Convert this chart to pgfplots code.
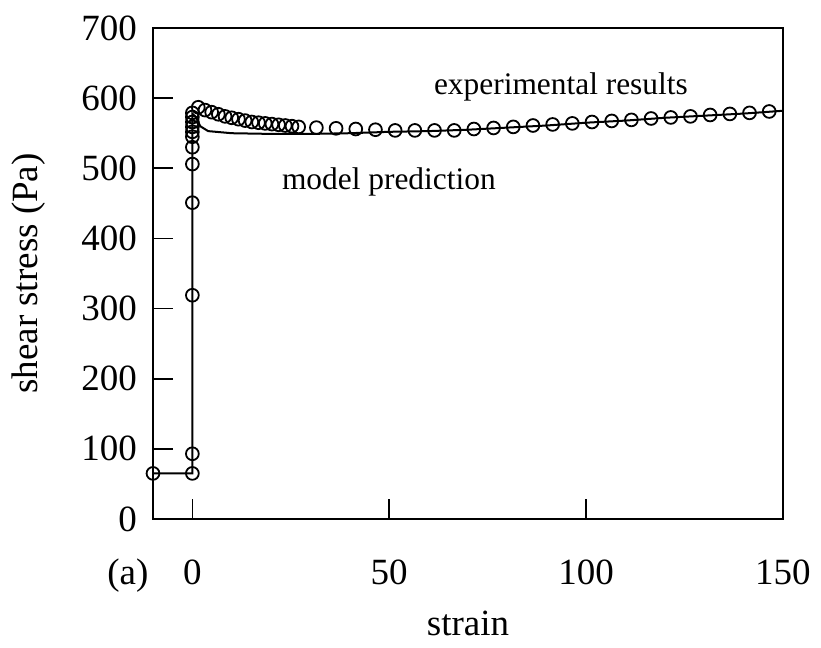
\documentclass[border=0pt]{standalone}
\usepackage{fontspec}
\setmainfont{Liberation Serif}
\usepackage{pgfplots}
\pgfplotsset{compat=1.18}

% experimental shear stress vs. strain
\pgfplotstableread{
x y
-10 65
0 65
0 93
0 319
0 451
0 506
0 530
0 545
0 552
0 559
0 566
0 573
0 579
1.5 587
3.2 583
4.9 580
6.6 577
8.3 574
10.0 572
11.7 570
13.4 568
15.1 566
16.8 565
18.5 564
20.2 563
21.9 562
23.6 561
25.3 560
27.0 559
31.5 558
36.5 557
41.5 556
46.5 555
51.5 554
56.5 554
61.5 554
66.5 554
71.5 556
76.5 557.5
81.5 559
86.5 561
91.5 562.5
96.5 564
101.5 566
106.5 567.5
111.5 569
116.5 571
121.5 572.5
126.5 574
131.5 576
136.5 577.5
141.5 579
146.5 581
}\expdata

% model prediction
\pgfplotstableread{
x y
-10 65
0 65
0 578
1 572
2 560
4 553
10 550
20 549
30 549
40 550
50 552
60 553
70 555
80 558
90 561
100 565
110 568
120 572
130 575
140 578
150 582
}\modeldata

\begin{document}
\begin{tikzpicture}
\useasboundingbox (-76.5pt,-64.5pt) rectangle (334pt,259.5pt);
\begin{axis}[
  scale only axis,
  width=315pt, height=245.5pt,
  xmin=-10, xmax=150, ymin=0, ymax=700,
  xtick={0,50,100,150},
  ytick={0,100,...,700},
  tick align=inside,
  xtick pos=bottom, ytick pos=left,
  major tick length=10pt,
  every tick/.style={black, line width=0.8pt},
  axis line style={line width=1.4pt},
  /pgf/number format/assume math mode=true,
  tick label style={font=\fontsize{18.5}{22}\selectfont},
  xticklabel style={yshift=-17pt},
  yticklabel style={xshift=-4.5pt},
  label style={font=\fontsize{18.5}{22}\selectfont},
  xlabel={strain},
  ylabel={shear stress (Pa)},
  xlabel style={at={(axis description cs:0.5,-0.212)}, anchor=center},
  ylabel style={at={(axis description cs:-0.198,0.5)}, anchor=center},
  clip=false,
]
\addplot[black, line width=1pt] table[x=x, y=y] {\modeldata};
\addplot[only marks, mark=o, mark size=3.2pt,
  mark options={black, fill=white, line width=0.9pt}] table[x=x, y=y] {\expdata};
\node[font=\fontsize{15.7}{18}\selectfont] at (axis cs:93.6,616) {experimental results};
\node[font=\fontsize{15.7}{18}\selectfont] at (axis cs:49.9,480) {model prediction};
\node[font=\fontsize{18.5}{22}\selectfont] at (axis description cs:-0.04,-0.116) {(a)};
\end{axis}
\end{tikzpicture}
\end{document}
